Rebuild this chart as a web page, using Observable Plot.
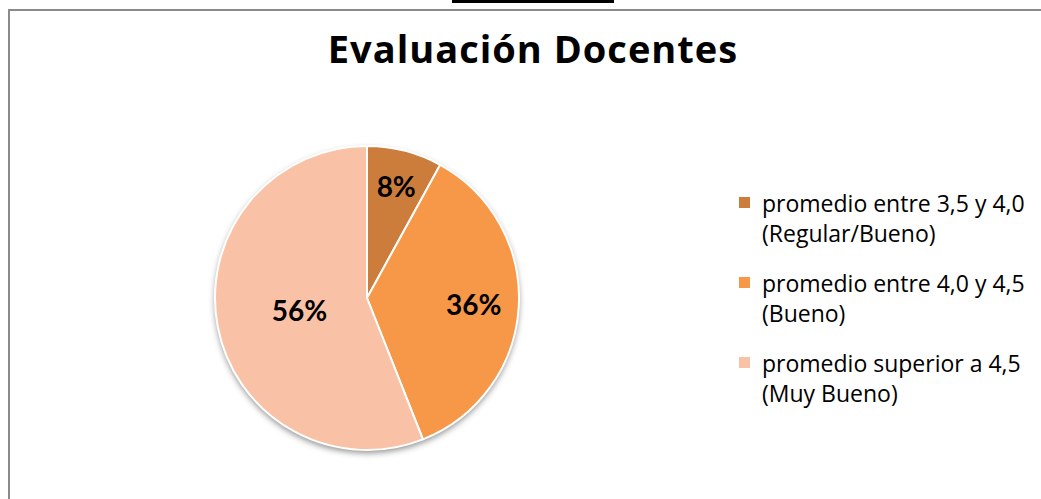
<!DOCTYPE html>
<html><head><meta charset="utf-8">
<script src="https://cdn.jsdelivr.net/npm/d3@7"></script>
<script src="https://cdn.jsdelivr.net/npm/@observablehq/plot@0.6"></script>
<style>
html,body{margin:0;padding:0;background:#fff;}
#wrap{position:relative;width:1041px;height:499px;overflow:hidden;font-family:"Open Sans",Lato,sans-serif;}
#topbar{position:absolute;left:452px;top:0;width:162px;height:3px;background:#000;}
#bt{position:absolute;left:8px;top:9px;width:1040px;height:2px;background:#8a8a8a;}
#bl{position:absolute;left:8px;top:9px;width:2px;height:500px;background:#8a8a8a;}
#title{position:absolute;left:0;width:1066px;top:26px;text-align:center;font-weight:700;font-size:38px;color:#000;line-height:44px;letter-spacing:1px;}
#chart{position:absolute;left:207px;top:138px;}
#legend{position:absolute;left:739px;top:189px;font-size:23px;color:#000;}
.item{position:relative;padding-left:23px;line-height:29.5px;margin-bottom:21px;white-space:nowrap;}
.sw{position:absolute;left:0;top:8px;width:11px;height:11px;}
</style></head>
<body><div id="wrap">
<div id="topbar"></div><div id="bt"></div><div id="bl"></div>
<div id="title"></div>
<div id="chart"></div>
<div id="legend"></div>
</div>
<script>
const title = "Evaluación Docentes";
const categories = ["promedio entre 3,5 y 4,0 (Regular/Bueno)", "promedio entre 4,0 y 4,5 (Bueno)", "promedio superior a 4,5 (Muy Bueno)"];
const legendLine1 = ["promedio entre 3,5 y 4,0", "promedio entre 4,0 y 4,5", "promedio superior a 4,5"];
const legendLine2 = ["(Regular/Bueno)", "(Bueno)", "(Muy Bueno)"];
const values = [8, 36, 56];
const labels = ["8%", "36%", "56%"];
const colors = ["#CD7D3B", "#F79748", "#F9C2A6"];
// label placement (fraction of radius), layout only
const labelR = [0.76, 0.70, 0.455];

document.getElementById("title").textContent = title;

const pie = d3.pie().sort(null).value(d => d.value)(values.map((v,i)=>({value:v,i})));
const slices = pie.map(p => ({
  cat: categories[p.data.i], label: labels[p.data.i],
  start: p.startAngle, end: p.endAngle,
  lx: labelR[p.data.i] * Math.sin((p.startAngle+p.endAngle)/2),
  ly: labelR[p.data.i] * Math.cos((p.startAngle+p.endAngle)/2)
}));

const S = 320, R = 152, half = (S/2)/R;

function pieMark(index, scales, values2, dims, ctx) {
  const cx = scales.x(0), cy = scales.y(0), r = scales.x(1) - scales.x(0);
  const g = d3.create("svg:g");
  const defs = g.append("defs");
  const f = defs.append("filter").attr("id","sh").attr("x","-20%").attr("y","-20%").attr("width","140%").attr("height","140%");
  f.append("feDropShadow").attr("dx",0).attr("dy",3).attr("stdDeviation",3).attr("flood-color","#000").attr("flood-opacity",0.45);
  g.append("circle").attr("cx",cx).attr("cy",cy).attr("r",r).attr("fill","#fff").attr("filter","url(#sh)");
  const arc = d3.arc().innerRadius(0).outerRadius(r);
  g.append("g").attr("transform",`translate(${cx},${cy})`)
    .selectAll("path").data(slices).join("path")
    .attr("d", d => arc({startAngle:d.start, endAngle:d.end}))
    .attr("fill", d => scales.color(d.cat))
    .attr("stroke","#fff").attr("stroke-width",2).attr("stroke-linejoin","round");
  return g.node();
}

const plot = Plot.plot({
  width: S, height: S, margin: 0,
  x: {domain: [-half, half], axis: null},
  y: {domain: [-half, half], axis: null},
  color: {domain: categories, range: colors},
  style: {background: "transparent", overflow: "visible"},
  marks: [
    Plot.dot(slices, {x: "lx", y: "ly", fill: "cat", r: 0}),
    pieMark,
    Plot.text(slices, {x: "lx", y: "ly", text: "label", fontSize: 28, fontWeight: 700, fill: "#000", fontFamily: "Lato", dy: 1})
  ]
});
document.getElementById("chart").appendChild(plot);

const leg = document.getElementById("legend");
categories.forEach((c,i) => {
  const it = document.createElement("div"); it.className = "item";
  const sw = document.createElement("div"); sw.className = "sw"; sw.style.background = colors[i];
  it.appendChild(sw);
  const t1 = document.createElement("div"); t1.textContent = legendLine1[i];
  const t2 = document.createElement("div"); t2.textContent = legendLine2[i];
  it.appendChild(t1); it.appendChild(t2);
  leg.appendChild(it);
});
</script>
</body></html>
